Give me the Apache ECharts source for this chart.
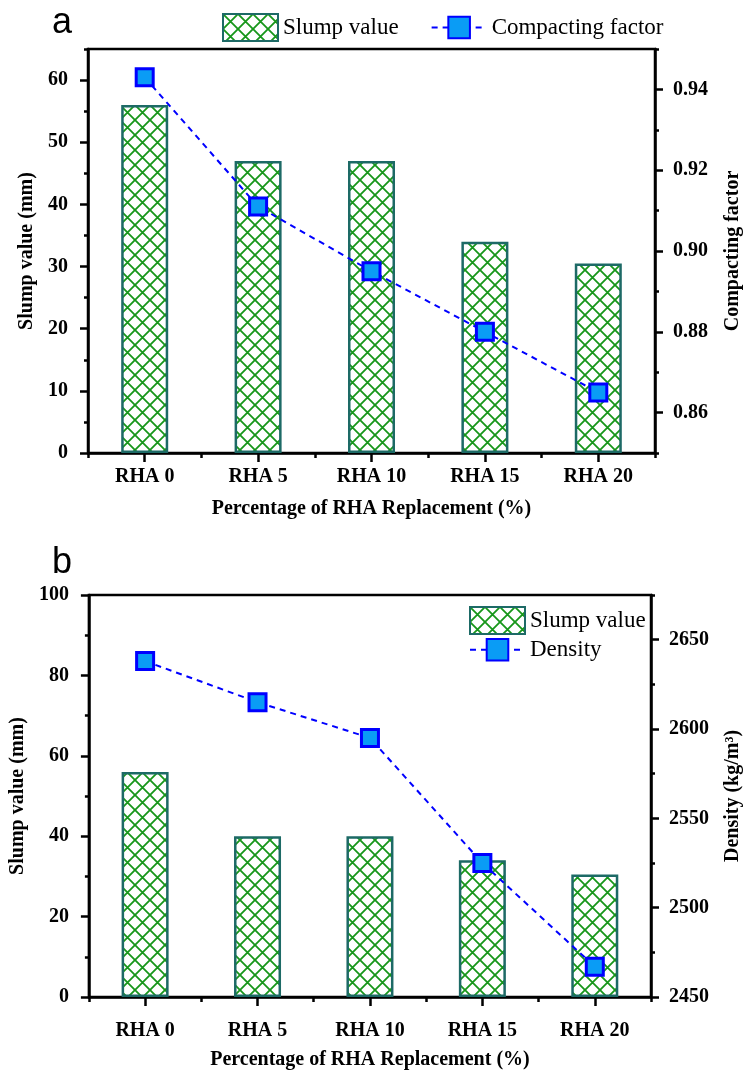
<!DOCTYPE html>
<html>
<head>
<meta charset="utf-8">
<script src="https://cdn.jsdelivr.net/npm/echarts@6/dist/echarts.min.js"></script>
<style>
html,body{margin:0;padding:0;background:#fff;overflow:hidden;}
#chart{width:751px;height:1072px;}
</style>
</head>
<body>
<div id="chart"></div>
<script>
// ---------------- data ----------------
const categories = ['RHA 0', 'RHA 5', 'RHA 10', 'RHA 15', 'RHA 20'];
const slumpA = [56, 47, 47, 34, 30.5];
const compactingFactor = [0.943, 0.911, 0.895, 0.880, 0.865];
const slumpB = [56, 40, 40, 34, 30.5];
const density = [2638, 2615, 2595, 2525, 2467];

// tick labels / ranges
const slumpRangeA = [0, 65];
const slumpTicksA = [0, 10, 20, 30, 40, 50, 60];
const slumpMinorA = [5, 15, 25, 35, 45, 55, 65];
const cfRange = [0.85, 0.95];
const cfTicks = [0.86, 0.88, 0.90, 0.92, 0.94];
const cfMinor = [0.85, 0.87, 0.89, 0.91, 0.93, 0.95];
const slumpRangeB = [0, 100];
const slumpTicksB = [0, 20, 40, 60, 80, 100];
const slumpMinorB = [10, 30, 50, 70, 90];
const densityRange = [2450, 2675];
const densityTicks = [2450, 2500, 2550, 2600, 2650];
const densityMinor = [2475, 2525, 2575, 2625, 2675];

// ---------------- styles ----------------
const SERIF = 'Liberation Serif';
const HATCH = '#17961a';
const BAR_BORDER = '#1d6a66';
const LINE_BLUE = '#0000ff';
const MARK_FILL = '#0a9cf5';

function hatchPattern() {
  const c = document.createElement('canvas');
  const s = 15;
  c.width = s; c.height = s;
  const g = c.getContext('2d');
  g.fillStyle = '#ffffff';
  g.fillRect(0, 0, s, s);
  g.strokeStyle = HATCH;
  g.lineWidth = 1.8;
  g.beginPath();
  g.moveTo(-1, -1); g.lineTo(s + 1, s + 1);
  g.moveTo(s + 1, -1); g.lineTo(-1, s + 1);
  g.stroke();
  return { image: c, repeat: 'repeat' };
}
const pattern = hatchPattern();

const lineAx = { show: true, lineStyle: { color: '#000', width: 2.5 } };
const lblStyle = { color: '#000', fontFamily: SERIF, fontWeight: 'bold', fontSize: 20 };
const nameStyle = { color: '#000', fontFamily: SERIF, fontWeight: 'bold', fontSize: 20 };

function yMajor(grid, pos, range, ticks, fmt, name, nameGap) {
  return {
    type: 'value', gridIndex: grid, position: pos, min: range[0], max: range[1],
    axisLine: lineAx,
    axisTick: { show: true, inside: false, length: 8, customValues: ticks, lineStyle: { color: '#000', width: 2.5 } },
    axisLabel: Object.assign({ customValues: ticks, margin: pos === 'left' ? 20 : 18, formatter: fmt }, lblStyle),
    splitLine: { show: false },
    name: name, nameLocation: 'middle', nameGap: nameGap, nameRotate: 90, nameTextStyle: nameStyle
  };
}
function yMinor(grid, pos, range, ticks) {
  return {
    type: 'value', gridIndex: grid, position: pos, min: range[0], max: range[1],
    axisLine: { show: false },
    axisTick: { show: true, inside: false, length: 4, customValues: ticks, lineStyle: { color: '#000', width: 2.5 } },
    axisLabel: { show: false },
    splitLine: { show: false }
  };
}
function xBoundary(grid, name, margin, nameGap) {
  return {
    type: 'category', gridIndex: grid, position: 'bottom', data: categories, boundaryGap: true,
    axisLine: lineAx,
    axisTick: { show: true, length: 5, lineStyle: { color: '#000', width: 2.5 } },
    axisLabel: Object.assign({ margin: margin }, lblStyle),
    splitLine: { show: false },
    name: name, nameLocation: 'middle', nameGap: nameGap, nameTextStyle: nameStyle
  };
}
function xCenter(grid) {
  return {
    type: 'category', gridIndex: grid, position: 'bottom', data: categories, boundaryGap: true,
    axisLine: { show: false },
    axisTick: { show: true, alignWithLabel: true, length: 9, lineStyle: { color: '#000', width: 2.5 } },
    axisLabel: { show: false },
    splitLine: { show: false }
  };
}

const fmt0 = v => String(v);
const fmt2 = v => v.toFixed(2);
const xName = 'Percentage of RHA Replacement (%)';

const barItem = { color: pattern, borderColor: BAR_BORDER, borderWidth: 2.5 };
const lineSeriesStyle = {
  type: 'line', symbol: 'rect', symbolSize: 17,
  itemStyle: { color: MARK_FILL, borderColor: LINE_BLUE, borderWidth: 3 },
  lineStyle: { color: LINE_BLUE, width: 2, type: [6, 5] },
  z: 5
};

const option = {
  animation: false,
  backgroundColor: '#ffffff',
  title: [
    { text: 'a', left: 52, top: 5, padding: 0, textStyle: { fontFamily: 'Liberation Sans', fontSize: 36, fontWeight: 'normal', color: '#000' } },
    { text: 'b', left: 52, top: 545, padding: 0, textStyle: { fontFamily: 'Liberation Sans', fontSize: 36, fontWeight: 'normal', color: '#000' } }
  ],
  legend: [
    {
      left: 222, top: 13, padding: 0, orient: 'horizontal', itemWidth: 55, itemHeight: 27, itemGap: 32,
      textStyle: { fontFamily: SERIF, fontSize: 23, color: '#000' },
      data: [{ name: 'Slump value', icon: 'rect' }, 'Compacting factor']
    },
    {
      left: 469, top: 606, padding: 0, orient: 'vertical', itemWidth: 55, itemHeight: 27, itemGap: 3,
      textStyle: { fontFamily: SERIF, fontSize: 23, color: '#000' },
      data: [{ name: 'Slump value', icon: 'rect' }, 'Density']
    }
  ],
  grid: [
    { left: 88, width: 569, top: 49, height: 404, show: true, borderColor: '#000', borderWidth: 2.5, backgroundColor: 'transparent' },
    { left: 88, width: 569, top: 595, height: 402, show: true, borderColor: '#000', borderWidth: 2.5, backgroundColor: 'transparent' }
  ],
  xAxis: [
    xBoundary(0, xName, 14, 46),
    xCenter(0),
    xBoundary(1, xName, 24, 53),
    xCenter(1)
  ],
  yAxis: [
    yMajor(0, 'left', slumpRangeA, slumpTicksA, fmt0, 'Slump value (mm)', 50),
    yMinor(0, 'left', slumpRangeA, slumpMinorA),
    yMajor(0, 'right', cfRange, cfTicks, fmt2, 'Compacting factor', 68),
    yMinor(0, 'right', cfRange, cfMinor),
    yMajor(1, 'left', slumpRangeB, slumpTicksB, fmt0, 'Slump value (mm)', 53),
    yMinor(1, 'left', slumpRangeB, slumpMinorB),
    yMajor(1, 'right', densityRange, densityTicks, fmt0, 'Density (kg/m³)', 72),
    yMinor(1, 'right', densityRange, densityMinor)
  ],
  series: [
    { name: 'Slump value', type: 'bar', xAxisIndex: 0, yAxisIndex: 0, data: slumpA, barWidth: 47, itemStyle: barItem },
    Object.assign({ name: 'Compacting factor', xAxisIndex: 0, yAxisIndex: 2, data: compactingFactor }, lineSeriesStyle),
    { name: 'Slump value', type: 'bar', xAxisIndex: 2, yAxisIndex: 4, data: slumpB, barWidth: 47, itemStyle: barItem },
    Object.assign({ name: 'Density', xAxisIndex: 2, yAxisIndex: 6, data: density }, lineSeriesStyle)
  ]
};

const chart = echarts.init(document.getElementById('chart'), null, { renderer: 'canvas' });
chart.setOption(option);
</script>
</body>
</html>
